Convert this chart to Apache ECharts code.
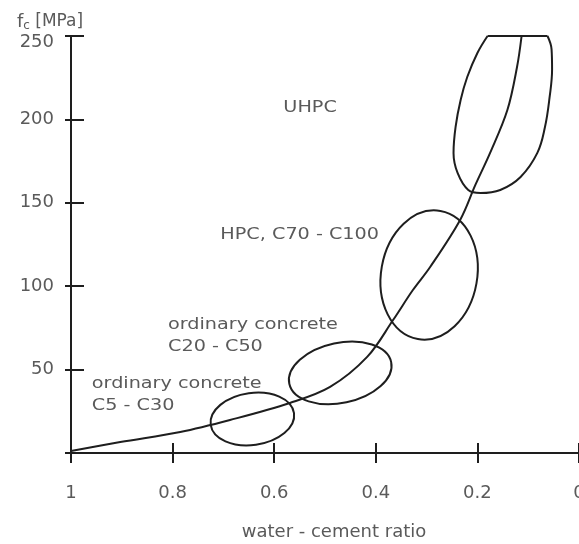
<!DOCTYPE html>
<html>
<head>
<meta charset="utf-8">
<script src="https://cdn.jsdelivr.net/npm/echarts@6/dist/echarts.min.js"></script>
<style>
html,body{margin:0;padding:0;background:#fff;}
#chart{width:579px;height:544px;}
</style>
</head>
<body>
<div id="chart"></div>
<script>
// ---- data ----
const xTickValues = [1, 0.8, 0.6, 0.4, 0.2, 0];
const xTickLabels = ['1', '0.8', '0.6', '0.4', '0.2', '0'];
const yTickValues = [0, 50, 100, 150, 200, 250];
const yTickLabels = ['', '50', '100', '150', '200', '250'];

// strength vs water-cement ratio curve
const curveX = [1.0, 0.903, 0.785, 0.687, 0.569, 0.490, 0.417, 0.366, 0.327, 0.293, 0.234, 0.204, 0.175, 0.141, 0.122, 0.113];
const curveY = [1.2, 6.6, 12.6, 19.8, 30.0, 39.6, 57.6, 79.7, 97.7, 111.5, 139.7, 160.7, 179.9, 205.6, 231.4, 250];

// concrete class zones (ellipses): centre, half extents in data units, tilt in degrees
const zoneNames = ['C5 - C30', 'C20 - C50', 'C70 - C100'];
const zoneCenterX = [0.643, 0.470, 0.295];
const zoneCenterY = [20.4, 48, 106.7];
const zoneHalfW = [0.0828, 0.1025, 0.0946];
const zoneHalfH = [15.6, 18, 39];
const zoneTilt = [8, 12, -10];

// UHPC zone outline (open at the top, closed by a straight edge at 250)
const uhpcX = [0.180, 0.200, 0.220, 0.233, 0.243, 0.247, 0.239, 0.218, 0.194, 0.155, 0.115, 0.082, 0.067, 0.058, 0.053, 0.054, 0.062];
const uhpcY = [250, 239.8, 225.4, 211.6, 195.4, 179.9, 167.9, 157.7, 155.9, 157.7, 165.5, 179.9, 195.4, 213, 230, 242, 250];
const uhpcTopX = [0.180, 0.062];
const uhpcTopY = [250, 250];

// annotations
const noteTexts = ['UHPC', 'HPC, C70 - C100', 'ordinary concrete\nC20 - C50', 'ordinary concrete\nC5 - C30'];
const noteX = [0.582, 0.706, 0.809, 0.959];
const noteY = [206.8, 130.7, 70.1, 34.8];

// ---- chart ----
const INK = '#1e1e1e';
const TXT = '#5a5a5a';
const FONT = 'DejaVu Sans';

const zip = (a, b) => a.map((v, i) => [v, b[i]]);

const chart = echarts.init(document.getElementById('chart'), null, {renderer: 'canvas'});

const xBase = {
  type: 'value', min: 0, max: 1, interval: 0.2, inverse: true,
  position: 'bottom',
  splitLine: {show: false}
};
const yBase = {
  type: 'value', min: 0, max: 250, interval: 50,
  position: 'left',
  splitLine: {show: false}
};

chart.setOption({
  animation: false,
  backgroundColor: '#fff',
  grid: {left: 71, right: 0, top: 36, bottom: 91, containLabel: false, outerBoundsMode: 'none'},
  xAxis: [
    Object.assign({}, xBase, {
      name: 'water - cement ratio',
      nameLocation: 'middle',
      nameGap: 70,
      nameTextStyle: {color: TXT, fontSize: 18, fontFamily: FONT, padding: [0, 0, 0, 18]},
      axisLine: {show: true, onZero: false, lineStyle: {color: INK, width: 2}},
      axisTick: {show: true, inside: false, length: 10, lineStyle: {color: INK, width: 2}},
      axisLabel: {
        show: true, margin: 31, color: TXT, fontSize: 18, fontFamily: FONT,
        showMaxLabel: true, showMinLabel: true, hideOverlap: false,
        formatter: v => {
          const i = xTickValues.findIndex(t => Math.abs(t - v) < 1e-6);
          return i >= 0 ? xTickLabels[i] : '';
        }
      }
    }),
    Object.assign({}, xBase, {
      axisLine: {show: false, onZero: false},
      axisTick: {show: true, inside: true, length: 10, lineStyle: {color: INK, width: 2}},
      axisLabel: {show: false}
    })
  ],
  yAxis: [
    Object.assign({}, yBase, {
      name: '{f|f}{c|c}{u| [MPa]}',
      nameLocation: 'end',
      nameGap: 4,
      nameTextStyle: {
        align: 'center', padding: [0, 42, 0, 0],
        rich: {
          f: {color: TXT, fontSize: 18, fontFamily: FONT},
          c: {color: TXT, fontSize: 12, fontFamily: FONT, padding: [8, 0, 0, 0]},
          u: {color: TXT, fontSize: 17, fontFamily: FONT}
        }
      },
      axisLine: {show: true, onZero: false, lineStyle: {color: INK, width: 2}},
      axisTick: {show: true, inside: false, length: 6, lineStyle: {color: INK, width: 2}},
      axisLabel: {
        show: true, margin: 17, color: TXT, fontSize: 18, fontFamily: FONT,
        rich: {low: {color: TXT, fontSize: 18, fontFamily: FONT, padding: [12, 0, 0, 0]}},
        formatter: v => {
          const i = yTickValues.findIndex(t => Math.abs(t - v) < 1e-6);
          if (i < 0) return '';
          return i === yTickValues.length - 1 ? '{low|' + yTickLabels[i] + '}' : yTickLabels[i];
        }
      }
    }),
    Object.assign({}, yBase, {
      axisLine: {show: false, onZero: false},
      axisTick: {show: true, inside: true, length: 13, lineStyle: {color: INK, width: 2}},
      axisLabel: {show: false}
    })
  ],
  series: [
    {
      name: 'strength curve',
      type: 'line',
      data: zip(curveX, curveY),
      smooth: 0.35,
      symbol: 'none',
      clip: false,
      lineStyle: {color: INK, width: 2}
    },
    {
      name: 'UHPC zone',
      type: 'line',
      data: zip(uhpcX, uhpcY),
      smooth: 0.4,
      symbol: 'none',
      clip: false,
      lineStyle: {color: INK, width: 2}
    },
    {
      name: 'UHPC zone top',
      type: 'line',
      data: zip(uhpcTopX, uhpcTopY),
      symbol: 'none',
      clip: false,
      lineStyle: {color: INK, width: 2}
    },
    {
      name: 'zones',
      type: 'custom',
      clip: false,
      encode: {x: 0, y: 1},
      data: zoneNames.map((n, i) => ({name: n, value: [zoneCenterX[i], zoneCenterY[i], zoneHalfW[i], zoneHalfH[i], zoneTilt[i]]})),
      renderItem: (params, api) => {
        const c = api.coord([api.value(0), api.value(1)]);
        const s = api.size([api.value(2), api.value(3)]);
        return {
          type: 'ellipse',
          x: c[0], y: c[1],
          rotation: api.value(4) * Math.PI / 180,
          shape: {cx: 0, cy: 0, rx: Math.abs(s[0]), ry: Math.abs(s[1])},
          style: {fill: 'none', stroke: INK, lineWidth: 2}
        };
      }
    },
    {
      name: 'notes',
      type: 'custom',
      clip: false,
      encode: {x: 0, y: 1},
      data: noteTexts.map((t, i) => ({name: t, value: [noteX[i], noteY[i]]})),
      renderItem: (params, api) => {
        const c = api.coord([api.value(0), api.value(1)]);
        return {
          type: 'text',
          x: c[0], y: c[1],
          scaleX: 1.2,
          style: {
            text: noteTexts[params.dataIndex],
            fill: TXT, fontSize: 16, fontFamily: FONT,
            align: 'left', verticalAlign: 'middle', lineHeight: 22
          }
        };
      }
    }
  ]
});
</script>
</body>
</html>
